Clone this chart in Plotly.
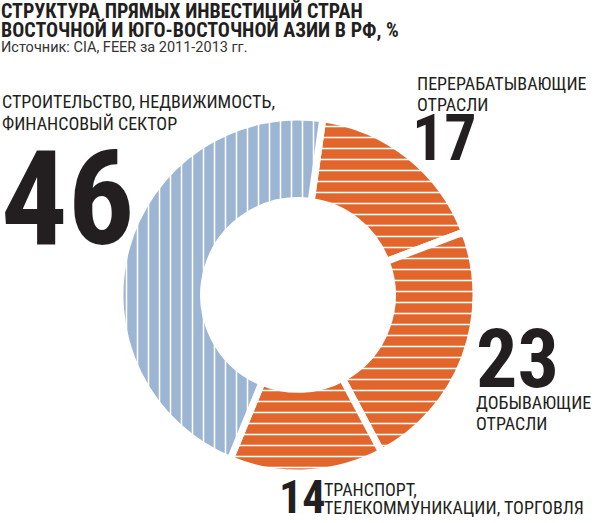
import plotly.graph_objects as go

W, H = 600, 523

categories = [
    "ПЕРЕРАБАТЫВАЮЩИЕ ОТРАСЛИ",
    "ДОБЫВАЮЩИЕ ОТРАСЛИ",
    "ТРАНСПОРТ, ТЕЛЕКОММУНИКАЦИИ, ТОРГОВЛЯ",
    "СТРОИТЕЛЬСТВО, НЕДВИЖИМОСТЬ, ФИНАНСОВЫЙ СЕКТОР",
]
values = [17, 23, 14, 46]
slice_colors = ["#e2662c", "#e2662c", "#e2662c", "#9bb5d2"]
slice_patterns = ["-", "-", "-", "|"]

title_lines = [
    "СТРУКТУРА ПРЯМЫХ ИНВЕСТИЦИЙ СТРАН",
    "ВОСТОЧНОЙ И ЮГО-ВОСТОЧНОЙ АЗИИ В РФ, %",
]
subtitle = "Источник: CIA, FEER за 2011-2013 гг."

label_lines = [
    ["ПЕРЕРАБАТЫВАЮЩИЕ", "ОТРАСЛИ"],
    ["ДОБЫВАЮЩИЕ", "ОТРАСЛИ"],
    ["ТРАНСПОРТ,", "ТЕЛЕКОММУНИКАЦИИ, ТОРГОВЛЯ"],
    ["СТРОИТЕЛЬСТВО, НЕДВИЖИМОСТЬ,", "ФИНАНСОВЫЙ СЕКТОР"],
]

NARROW = "Liberation Sans Narrow, Roboto Condensed, DejaVu Sans Condensed, Arial Narrow, sans-serif"
INK = "#231f20"

# donut geometry (pixels)
cx, cy, R = 298, 295, 178
hole = 0.53

fig = go.Figure(go.Pie(
    labels=categories,
    values=values,
    sort=False,
    direction="clockwise",
    rotation=8,
    hole=hole,
    textinfo="none",
    hoverinfo="label+value",
    showlegend=False,
    marker=dict(
        colors=slice_colors,
        line=dict(color="white", width=7),
        pattern=dict(
            shape=slice_patterns,
            fgcolor="white",
            bgcolor=slice_colors,
            size=11,
            solidity=0.14,
            fillmode="replace",
        ),
    ),
    domain=dict(x=[(cx - R) / W, (cx + R) / W], y=[1 - (cy + R) / H, 1 - (cy - R) / H]),
))


def px(x):
    return x / W


def py(y):
    return 1 - y / H


ann = []


def text(x, y, s, size, bold=False, family=NARROW, color=INK, anchor="left"):
    ann.append(dict(
        x=px(x), y=py(y), xref="paper", yref="paper",
        text=("<b>%s</b>" % s) if bold else s,
        showarrow=False, xanchor=anchor, yanchor="middle",
        font=dict(family=family, size=size, color=color),
        borderpad=0,
    ))


# title
text(0, 10.5, title_lines[0], 20, bold=True)
text(0, 30, title_lines[1], 20, bold=True)
text(0, 47.5, subtitle, 14.5, family="Roboto, Liberation Sans, sans-serif", color="#333333")

# big numbers (cap centres)
num_pos = [(411, 138, 64), (475, 359, 82), (278, 497, 46), (0, 199, 132)]
for v, (x, y, s) in zip(values, num_pos):
    text(x, y, "<b>%d</b>" % v, s)

# category labels (cap centres of each line)
lab_pos = [
    [(416, 83.5), (416, 104)],
    [(475, 402.5), (475, 423.5)],
    [(323, 489.5), (323, 507)],
    [(1, 101.5), (1, 123)],
]
for lines, poss in zip(label_lines, lab_pos):
    for s, (x, y) in zip(lines, poss):
        text(x, y, s, 18)

fig.update_layout(
    width=W, height=H,
    margin=dict(l=0, r=0, t=0, b=0),
    paper_bgcolor="white", plot_bgcolor="white",
    annotations=ann,
)

fig.write_html("out.html")
